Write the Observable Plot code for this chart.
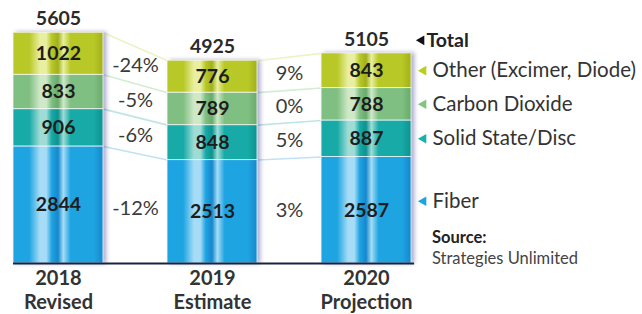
<!DOCTYPE html>
<html>
<head>
<meta charset="utf-8">
<script src="https://cdn.jsdelivr.net/npm/d3@7"></script>
<script src="https://cdn.jsdelivr.net/npm/@observablehq/plot@0.6"></script>
<style>
  html, body { margin: 0; padding: 0; background: #fff; }
  #wrap { position: relative; width: 642px; height: 314px; font-family: Lato, "Open Sans", sans-serif; }
  #source { position: absolute; left: 432px; top: 227px; font-size: 16.5px; color: #444; line-height: 21px; }
  #source b { color: #222; }
</style>
</head>
<body>
<div id="wrap">
  <div id="chart"></div>
  <div id="source"><b>Source:</b><br>Strategies Unlimited</div>
</div>
<script>
// ---- data ----
const years = ["2018", "2019", "2020"];
const stages = ["Revised", "Estimate", "Projection"];
const seriesNames = ["Fiber", "Solid State/Disc", "Carbon Dioxide", "Other (Excimer, Diode)"];
const fiber = [2844, 2513, 2587];
const solidState = [906, 848, 887];
const carbonDioxide = [833, 789, 788];
const other = [1022, 776, 843];
const totals = [5605, 4925, 5105];
const change2018to2019 = ["-12%", "-6%", "-5%", "-24%"];
const change2019to2020 = ["3%", "5%", "0%", "9%"];

// ---- styles ----
const baseColors = ["#1fa4e2", "#17aaa6", "#80bf82", "#b8c826"];
const lightColors = ["#a6dcf6", "#9fdcd6", "#cfe8c8", "#e8efa0"];
const darkColors = ["#1488cc", "#0d9290", "#67ab6a", "#a2b01a"];
const paleLink = ["#bfe2f4", "#bfe6e2", "#d4ecd2", "#eef2c4"];
const markerColors = ["#1aa3e6", "#17b0ae", "#7fc47f", "#b9cf1a"];
const hw = 0.292; // half bar width in band units

const valuesBySeries = [fiber, solidState, carbonDioxide, other];

// stacked rows
const rows = [];
years.forEach((yr, i) => {
  let acc = 0;
  valuesBySeries.forEach((vals, s) => {
    rows.push({i, s, value: vals[i], y1: acc, y2: acc + vals[i]});
    acc += vals[i];
  });
});
const rowAt = (i, s) => rows.find(r => r.i === i && r.s === s);
const mid = r => (r.y1 + r.y2) / 2;

// connecting lines between bars
const links = [];
for (let g = 0; g < 2; g++) {
  for (let s = 0; s < 4; s++) {
    links.push({s, x1: g + hw, x2: g + 1 - hw, y1: rowAt(g, s).y2, y2: rowAt(g + 1, s).y2});
  }
}
// percent labels
const pct = [];
[change2018to2019, change2019to2020].forEach((arr, g) => {
  arr.forEach((t, s) => {
    pct.push({x: g + 0.5, y: (mid(rowAt(g, s)) + mid(rowAt(g + 1, s))) / 2, t});
  });
});
const totalRows = totals.map((t, i) => ({i, t}));
const legendRows = seriesNames.map((name, s) => ({s, name, y: mid(rowAt(2, s))}));

const chart = Plot.plot({
  width: 642,
  height: 314,
  marginTop: 16,
  marginBottom: 51,
  marginLeft: 13,
  marginRight: 231,
  style: {fontFamily: "Lato, 'Open Sans', sans-serif", background: "#fff", overflow: "visible"},
  x: {domain: [-hw, 2 + hw], axis: null},
  y: {domain: [0, 6000], axis: null},
  color: {type: "ordinal", domain: [0, 1, 2, 3], range: [0, 1, 2, 3].map(k => `url(#grad${k})`)},
  marks: [
    Plot.link(links, {x1: "x1", x2: "x2", y1: "y1", y2: "y2", stroke: d => paleLink[d.s], strokeWidth: 1.6}),
    Plot.rectY(rows, {x1: d => d.i - hw, x2: d => d.i + hw, y1: "y1", y2: "y2", fill: "s", stroke: "#ffffff", strokeOpacity: 0.7, strokeWidth: 1}),
    Plot.text(rows, {x: "i", y: mid, text: d => String(d.value), fontSize: 19.5, fontWeight: 700, fill: "#1d1d1d"}),
    Plot.text(totalRows, {x: "i", y: "t", text: d => String(d.t), dy: -14, fontSize: 19.5, fontWeight: 700, fill: "#2a2a2a"}),
    Plot.text(pct, {x: "x", y: "y", text: "t", fontSize: 20, fill: "#3a3a3a"}),
    Plot.ruleY([0], {x1: -hw, x2: 2 + hw + 0.02, stroke: "#1b2240", strokeWidth: 2}),
    Plot.text(years.map((y, i) => ({i, label: y + "\n" + stages[i]})), {x: "i", y: () => 0, text: "label", lineAnchor: "top", dy: 5, fontSize: 20, fontWeight: 700, lineHeight: 1.18, fill: "#333"}),
    // legend: total
    Plot.dot([totalRows[2]], {x: () => 2 + hw, y: "t", dx: 10, dy: -13, symbol: "triangle", rotate: -90, r: 3.6, fill: "#111", stroke: "none"}),
    Plot.text([totalRows[2]], {x: () => 2 + hw, y: "t", dx: 15, dy: -13, text: () => "Total", textAnchor: "start", fontSize: 19.5, fontWeight: 700, fill: "#222"}),
    // legend: series (Fiber sits a bit higher)
    Plot.dot(legendRows.filter(d => d.s > 0), {x: () => 2 + hw, y: "y", dx: 12, symbol: "triangle", rotate: -90, r: 3.6, fill: d => markerColors[d.s], stroke: "none"}),
    Plot.text(legendRows.filter(d => d.s > 0), {x: () => 2 + hw, y: "y", dx: 21, text: "name", textAnchor: "start", fontSize: 20.5, fill: "#333"}),
    Plot.dot(legendRows.filter(d => d.s === 0), {x: () => 2 + hw, y: "y", dx: 12, dy: -9, symbol: "triangle", rotate: -90, r: 3.6, fill: d => markerColors[d.s], stroke: "none"}),
    Plot.text(legendRows.filter(d => d.s === 0), {x: () => 2 + hw, y: "y", dx: 21, dy: -9, text: "name", textAnchor: "start", fontSize: 20.5, fill: "#333"})
  ]
});

// gradient definitions for the cylinder look
const svg = d3.select(chart);
const defs = svg.insert("defs", ":first-child");
baseColors.forEach((c, k) => {
  const g = defs.append("linearGradient").attr("id", `grad${k}`).attr("x1", "0").attr("x2", "1").attr("y1", "0").attr("y2", "0");
  const stops = [
    [0, baseColors[k]], [0.18, baseColors[k]], [0.3, lightColors[k]], [0.37, lightColors[k]],
    [0.43, baseColors[k]], [0.5, darkColors[k]], [0.56, lightColors[k]], [0.64, baseColors[k]],
    [0.9, baseColors[k]], [1, darkColors[k]]
  ];
  stops.forEach(([o, col]) => g.append("stop").attr("offset", o).attr("stop-color", col));
});
// soft shadow on the right of the bars
svg.selectAll("g[aria-label='rect']").style("filter", "drop-shadow(3px 0px 2px rgba(70,70,150,0.45))");

document.getElementById("chart").appendChild(chart);
</script>
</body>
</html>
